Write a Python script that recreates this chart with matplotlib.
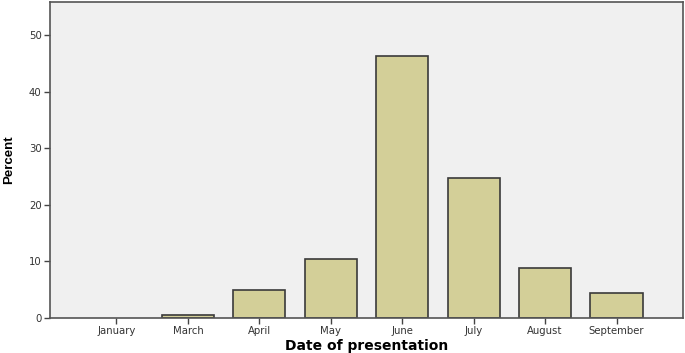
import matplotlib.pyplot as plt
import numpy as np

# Date of presentation (percent)
months = ['January', 'March', 'April', 'May', 'June', 'July', 'August', 'September']
percent = [0.0, 0.5, 4.9, 10.4, 46.2, 24.7, 8.8, 4.4]
yticks = [0, 10, 20, 30, 40, 50]

fig = plt.figure(figsize=(6.85, 3.53), dpi=100)
ax = fig.add_axes([0.073, 0.099, 0.924, 0.895])
ax.set_facecolor('#f0f0f0')

x = np.arange(len(months))
# zero-height bars get no outline, as in the original
widths = [1.2 if v > 0 else 0 for v in percent]
ax.bar(x, percent, width=0.73, color='#d3cf98', edgecolor='#3a3a3a', linewidth=widths)

ax.set_xlim(-0.93, len(months) - 0.07)
ax.set_ylim(0, 55.8)
ax.set_xticks(x)
ax.set_xticklabels(months, fontsize=7.3, color='#333333')
ax.set_yticks(yticks)
ax.set_yticklabels([str(v) for v in yticks], fontsize=7.3, color='#333333')
ax.tick_params(length=4, width=1, color='#444444', pad=2)

for s in ax.spines.values():
    s.set_color('#555555')
    s.set_linewidth(1.2)

ax.set_xlabel('Date of presentation', fontsize=10, fontweight='bold', labelpad=2)
ax.set_ylabel('Percent', fontsize=9.5, fontweight='bold', family='Liberation Sans', labelpad=10)

fig.savefig('out.png', dpi=100)
